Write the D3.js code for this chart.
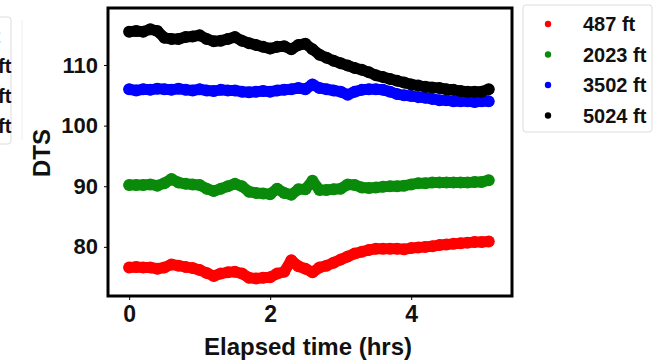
<!DOCTYPE html>
<html>
<head>
<meta charset="utf-8">
<script src="https://cdn.jsdelivr.net/npm/d3@7"></script>
<style>
  body { margin: 0; background: #fff; }
  text { font-family: "Liberation Sans", Arial, sans-serif; font-weight: bold; }
</style>
</head>
<body>
<div id="chart"></div>
<script>
var width = 659
var height = 361

// elapsed time (hrs) and DTS readings per depth
var hours = [0,0.1,0.2,0.3,0.4,0.5,0.6,0.7,0.8,0.9,1.0,1.1,1.2,1.3,1.4,1.5,1.6,1.7,1.8,1.9,
    2.0,2.1,2.2,2.3,2.4,2.5,2.6,2.7,2.8,2.9,3.0,3.1,3.2,3.3,3.4,3.5,3.6,3.7,3.8,3.9,
    4.0,4.1,4.2,4.3,4.4,4.5,4.6,4.7,4.8,4.9,5.0,5.1]

var dts487 = [76.6,76.7,76.6,76.6,76.4,76.6,77.1,76.9,76.7,76.5,76.2,75.7,75.2,75.6,75.8,75.9,75.6,74.9,74.8,74.9,
    75.0,75.6,75.9,77.8,76.8,76.4,75.8,76.6,76.9,77.4,77.9,78.4,78.9,79.2,79.5,79.7,79.7,79.7,79.7,79.6,
    79.8,79.9,80.0,80.1,80.3,80.4,80.5,80.6,80.7,80.8,80.8,80.9]
var dts2023 = [90.2,90.2,90.2,90.3,90.1,90.5,91.2,90.6,90.4,90.3,90.2,89.6,89.2,89.6,90.0,90.4,90.0,89.1,88.9,88.8,
    88.7,89.6,88.9,88.6,89.5,89.5,90.9,89.4,89.4,89.5,89.6,90.3,90.2,89.8,89.7,89.8,89.9,90.0,90.0,90.1,
    90.3,90.5,90.5,90.6,90.6,90.6,90.6,90.6,90.6,90.7,90.7,91.0]
var dts3502 = [106.0,105.8,106.0,105.9,106.1,106.0,105.9,106.1,105.9,105.8,106.0,105.8,105.7,105.9,105.8,105.8,105.6,105.5,105.6,105.7,
    105.6,105.8,105.9,106.0,106.2,106.0,106.8,106.2,106.0,105.8,105.6,105.1,105.6,105.9,106.0,106.0,105.9,105.6,105.2,105.0,
    104.9,104.7,104.6,104.4,104.2,104.2,104.0,104.0,104.0,103.9,104.0,104.0]
var dts5024 = [115.5,115.6,115.5,115.9,115.6,114.5,114.3,114.3,114.6,114.7,114.9,114.3,113.9,114.0,114.3,114.6,114.0,113.6,113.3,113.0,
    112.7,113.0,113.1,112.6,113.3,113.5,112.6,111.7,111.2,110.7,110.3,109.9,109.5,109.2,108.8,108.3,108.0,107.7,107.4,107.1,
    106.8,106.6,106.4,106.3,106.2,106.0,105.9,105.7,105.6,105.6,105.6,106.0]

var depthLabels = ["487 ft", "2023 ft", "3502 ft", "5024 ft"]
var seriesColors = ["#ff0000", "#0a8a0a", "#0000ff", "#000000"]
var xTicks = [0, 2, 4]
var yTicks = [80, 90, 100, 110]

var series = [dts487, dts2023, dts3502, dts5024]

var svg = d3.select("#chart").append("svg")
    .attr("width", width)
    .attr("height", height)

var x = d3.scaleLinear()
    .domain([-0.3, 5.43])
    .range([108, 512])

var y = d3.scaleLinear()
    .domain([71.9, 119.4])
    .range([296, 8])

// legend of the neighbouring panel, cut off by the left edge (as in the source figure)
var leftLegend = svg.append("g")
leftLegend.append("rect")
    .attr("x", -60).attr("y", 17)
    .attr("width", 71).attr("height", 127)
    .attr("rx", 3)
    .attr("fill", "none")
    .attr("stroke", "#dcdcdc")
leftLegend.selectAll("text")
    .data(depthLabels)
    .enter().append("text")
    .attr("x", -52)
    .attr("y", function(d, i) { return 43 + i * 30 })
    .attr("font-size", "20px")
    .attr("fill", "#111")
    .text(function(d) { return d })
svg.append("line")
    .attr("x1", 22).attr("x2", 22)
    .attr("y1", 20).attr("y2", 140)
    .attr("stroke", "#eeeeee")

var line = d3.line()
    .x(function(d, i) { return x(hours[i]) })
    .y(function(d) { return y(d) })

series.forEach(function(s, k) {
    svg.append("path")
        .datum(s)
        .attr("d", line)
        .attr("fill", "none")
        .attr("stroke", seriesColors[k])
        .attr("stroke-width", 11)
        .attr("stroke-linecap", "round")
        .attr("stroke-linejoin", "round")

    svg.selectAll(".pt" + k)
        .data(s)
        .enter().append("circle")
        .attr("class", "pt" + k)
        .attr("cx", function(d, i) { return x(hours[i]) })
        .attr("cy", function(d) { return y(d) })
        .attr("r", 6)
        .attr("fill", seriesColors[k])
})

// frame
svg.append("rect")
    .attr("x", 108).attr("y", 8)
    .attr("width", 404).attr("height", 288)
    .attr("fill", "none")
    .attr("stroke", "#000")
    .attr("stroke-width", 3)

var xAxis = svg.append("g")
    .attr("transform", "translate(0,296)")
    .call(d3.axisBottom(x).tickValues(xTicks).tickFormat(d3.format("d")).tickSize(4).tickPadding(6))
xAxis.select(".domain").remove()
xAxis.selectAll("text").attr("font-size", "23px").attr("font-family", null).attr("fill", "#111")

var yAxis = svg.append("g")
    .attr("transform", "translate(108,0)")
    .call(d3.axisLeft(y).tickValues(yTicks).tickSize(4).tickPadding(6))
yAxis.select(".domain").remove()
yAxis.selectAll("text").attr("font-size", "22px").attr("font-family", null).attr("fill", "#111")

svg.append("text")
    .text("Elapsed time (hrs)")
    .attr("x", 308)
    .attr("y", 355)
    .attr("text-anchor", "middle")
    .attr("font-size", "24px")
    .attr("fill", "#111")

svg.append("text")
    .text("DTS")
    .attr("transform", "translate(50,153) rotate(-90)")
    .attr("text-anchor", "middle")
    .attr("font-size", "24px")
    .attr("fill", "#111")

// legend
var legend = svg.append("g")
legend.append("rect")
    .attr("x", 523).attr("y", 5)
    .attr("width", 129).attr("height", 127)
    .attr("rx", 3)
    .attr("fill", "#fff")
    .attr("stroke", "#dcdcdc")
var item = legend.selectAll(".item")
    .data(depthLabels)
    .enter().append("g")
    .attr("class", "item")
    .attr("transform", function(d, i) { return "translate(0," + (24 + i * 30.5) + ")" })
item.append("circle")
    .attr("cx", 548).attr("cy", 0).attr("r", 3.2)
    .attr("fill", function(d, i) { return seriesColors[i] })
item.append("text")
    .attr("x", 583).attr("y", 7)
    .attr("font-size", "20px")
    .attr("fill", "#111")
    .text(function(d) { return d })
</script>
</body>
</html>
